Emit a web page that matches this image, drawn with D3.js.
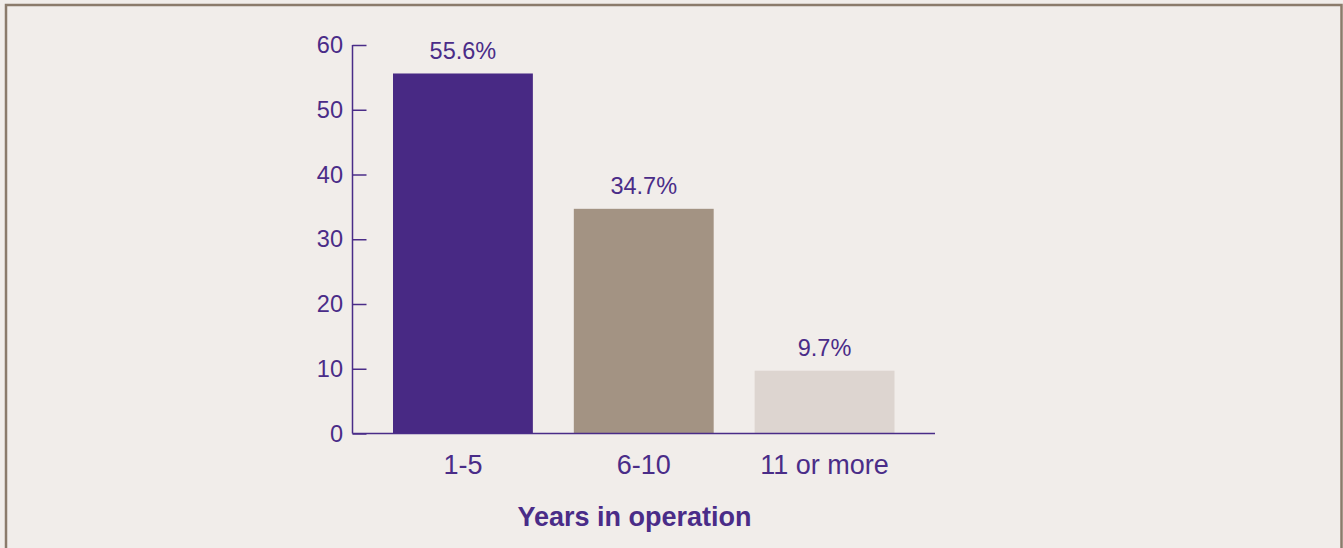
<!DOCTYPE html>
<html>
<head>
<meta charset="utf-8">
<script src="https://cdn.jsdelivr.net/npm/d3@7"></script>
<style>
  html, body { margin: 0; padding: 0; background: #f1edea; }
  svg { display: block; }
  text { font-family: "Liberation Sans", Arial, Helvetica, sans-serif; }
</style>
</head>
<body>
<svg id="chart" width="1343" height="548"></svg>
<script>
const categories = ["1-5", "6-10", "11 or more"];
const values = [55.6, 34.7, 9.7];
const valueLabels = ["55.6%", "34.7%", "9.7%"];
const barColors = ["#482984", "#a39383", "#ddd5d0"];
const yTicks = [0, 10, 20, 30, 40, 50, 60];
const xTitle = "Years in operation";

const W = 1343, H = 548;
const purple = "#4a2c88";
const svg = d3.select("#chart");

// background + border (top, left, right)
svg.append("rect").attr("x", 0).attr("y", 0).attr("width", W).attr("height", H).attr("fill", "#f1edea");
svg.append("path")
  .attr("d", `M6,${H} L6,5 L1341.5,5 L1341.5,${H}`)
  .attr("fill", "none").attr("stroke", "#8b7b6b").attr("stroke-width", 2.5);

const x0 = 352.5, x1 = 935;
const y0 = 433.5, y1 = 45;

const x = d3.scaleBand().domain(categories).range([x0, x1]).paddingInner(0.2265).paddingOuter(0.224);
const y = d3.scaleLinear().domain([0, 60]).range([y0, y1]);

// y axis
const yAxis = d3.axisRight(y).tickValues(yTicks).tickSize(14).tickFormat("");
const gy = svg.append("g").attr("transform", `translate(${x0},0)`).call(yAxis);
gy.select(".domain").attr("stroke", purple).attr("stroke-width", 1.5).attr("d", `M0,${y1}V${y0}`);
gy.selectAll(".tick line").attr("stroke", purple).attr("stroke-width", 1.5);

svg.append("g").selectAll("text").data(yTicks).join("text")
  .attr("x", 343).attr("y", d => y(d) + 2)
  .attr("text-anchor", "end").attr("dominant-baseline", "middle")
  .attr("font-size", 23.5).attr("fill", purple)
  .text(d => d);

// bars
svg.append("g").selectAll("rect").data(categories).join("rect")
  .attr("x", d => x(d)).attr("width", x.bandwidth())
  .attr("y", (d, i) => y(values[i])).attr("height", (d, i) => y(0) - y(values[i]))
  .attr("fill", (d, i) => barColors[i]);

// x axis line
svg.append("line").attr("x1", x0).attr("x2", x1).attr("y1", y0).attr("y2", y0)
  .attr("stroke", purple).attr("stroke-width", 1.5);

// value labels
svg.append("g").selectAll("text").data(categories).join("text")
  .attr("x", d => x(d) + x.bandwidth() / 2)
  .attr("y", (d, i) => y(values[i]) - 14.5)
  .attr("text-anchor", "middle").attr("font-size", 23.5).attr("fill", purple)
  .text((d, i) => valueLabels[i]);

// category labels
svg.append("g").selectAll("text").data(categories).join("text")
  .attr("x", d => x(d) + x.bandwidth() / 2)
  .attr("y", 474)
  .attr("text-anchor", "middle").attr("font-size", 27).attr("fill", purple)
  .text(d => d);

// axis title
svg.append("text").attr("x", 634.5).attr("y", 526)
  .attr("text-anchor", "middle").attr("font-size", 27).attr("font-weight", "bold").attr("fill", purple)
  .text(xTitle);
</script>
</body>
</html>
